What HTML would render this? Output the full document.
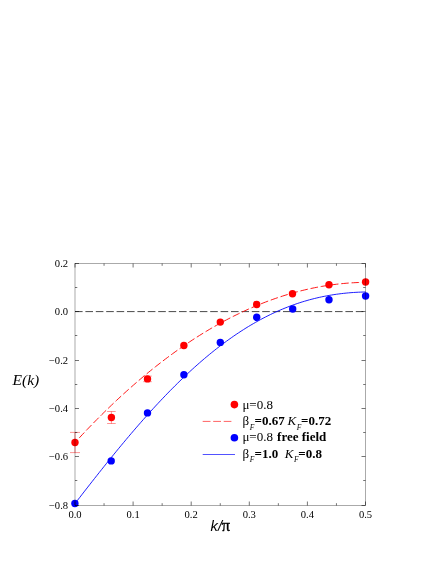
<!DOCTYPE html>
<html><head><meta charset="utf-8"><title>E(k)</title>
<style>
html,body{margin:0;padding:0;background:#fff;}
body{width:441px;height:570px;overflow:hidden;}
svg{display:block;will-change:transform;}
text{font-family:"Liberation Serif",serif;fill:#000;}
.tk{font-size:10.6px;}
.lg{font-size:13px;}
.sub{font-size:7.5px;font-style:italic;}
.b{font-weight:bold;}
.i{font-style:italic;}
</style></head><body>
<svg width="441" height="570" viewBox="0 0 441 570">
<rect width="441" height="570" fill="#fff"/>
<line x1="75.0" y1="311.6" x2="365.5" y2="311.6" stroke="#000" stroke-width="0.72" stroke-dasharray="7.6 2.8"/>
<path d="M74.90,442.62 L77.34,439.97 L79.79,437.33 L82.23,434.72 L84.67,432.13 L87.12,429.56 L89.56,427.02 L92.01,424.50 L94.45,422.00 L96.89,419.52 L99.34,417.06 L101.78,414.63 L104.22,412.21 L106.67,409.82 L109.11,407.46 L111.56,405.11 L114.00,402.79 L116.44,400.49 L118.89,398.21 L121.33,395.95 L123.77,393.71 L126.22,391.50 L128.66,389.31 L131.11,387.14 L133.55,385.00 L135.99,382.87 L138.44,380.77 L140.88,378.69 L143.32,376.64 L145.77,374.60 L148.21,372.59 L150.65,370.60 L153.10,368.63 L155.54,366.68 L157.99,364.76 L160.43,362.86 L162.87,360.98 L165.32,359.12 L167.76,357.29 L170.20,355.47 L172.65,353.68 L175.09,351.91 L177.54,350.17 L179.98,348.44 L182.42,346.74 L184.87,345.06 L187.31,343.40 L189.75,341.77 L192.20,340.15 L194.64,338.56 L197.08,336.99 L199.53,335.45 L201.97,333.92 L204.42,332.42 L206.86,330.94 L209.30,329.48 L211.75,328.05 L214.19,326.63 L216.63,325.24 L219.08,323.87 L221.52,322.53 L223.97,321.20 L226.41,319.90 L228.85,318.62 L231.30,317.36 L233.74,316.12 L236.18,314.91 L238.63,313.72 L241.07,312.55 L243.52,311.40 L245.96,310.28 L248.40,309.17 L250.85,308.09 L253.29,307.03 L255.73,306.00 L258.18,304.98 L260.62,303.99 L263.06,303.02 L265.51,302.07 L267.95,301.15 L270.40,300.25 L272.84,299.36 L275.28,298.51 L277.73,297.67 L280.17,296.85 L282.61,296.06 L285.06,295.29 L287.50,294.54 L289.95,293.82 L292.39,293.12 L294.83,292.43 L297.28,291.77 L299.72,291.14 L302.16,290.52 L304.61,289.93 L307.05,289.36 L309.49,288.81 L311.94,288.29 L314.38,287.78 L316.83,287.30 L319.27,286.84 L321.71,286.40 L324.16,285.99 L326.60,285.60 L329.04,285.23 L331.49,284.88 L333.93,284.55 L336.38,284.25 L338.82,283.97 L341.26,283.71 L343.71,283.47 L346.15,283.25 L348.59,283.06 L351.04,282.89 L353.48,282.74 L355.93,282.61 L358.37,282.51 L360.81,282.43 L363.26,282.37 L365.70,282.33" fill="none" stroke="#f00" stroke-width="0.9" stroke-dasharray="7.56 2.8" stroke-dashoffset="4.1"/>
<path d="M74.90,503.69 L77.34,500.53 L79.79,497.38 L82.23,494.23 L84.67,491.08 L87.12,487.95 L89.56,484.82 L92.01,481.70 L94.45,478.60 L96.89,475.50 L99.34,472.41 L101.78,469.34 L104.22,466.28 L106.67,463.23 L109.11,460.20 L111.56,457.18 L114.00,454.18 L116.44,451.19 L118.89,448.22 L121.33,445.27 L123.77,442.33 L126.22,439.41 L128.66,436.51 L131.11,433.64 L133.55,430.78 L135.99,427.94 L138.44,425.12 L140.88,422.33 L143.32,419.55 L145.77,416.80 L148.21,414.07 L150.65,411.37 L153.10,408.69 L155.54,406.03 L157.99,403.40 L160.43,400.80 L162.87,398.22 L165.32,395.66 L167.76,393.14 L170.20,390.64 L172.65,388.16 L175.09,385.72 L177.54,383.30 L179.98,380.91 L182.42,378.55 L184.87,376.22 L187.31,373.92 L189.75,371.64 L192.20,369.40 L194.64,367.19 L197.08,365.01 L199.53,362.85 L201.97,360.73 L204.42,358.64 L206.86,356.59 L209.30,354.56 L211.75,352.56 L214.19,350.60 L216.63,348.67 L219.08,346.77 L221.52,344.91 L223.97,343.07 L226.41,341.27 L228.85,339.51 L231.30,337.77 L233.74,336.07 L236.18,334.40 L238.63,332.77 L241.07,331.17 L243.52,329.60 L245.96,328.06 L248.40,326.56 L250.85,325.09 L253.29,323.66 L255.73,322.26 L258.18,320.89 L260.62,319.56 L263.06,318.26 L265.51,316.99 L267.95,315.76 L270.40,314.56 L272.84,313.39 L275.28,312.26 L277.73,311.16 L280.17,310.09 L282.61,309.06 L285.06,308.06 L287.50,307.09 L289.95,306.15 L292.39,305.25 L294.83,304.38 L297.28,303.54 L299.72,302.73 L302.16,301.95 L304.61,301.21 L307.05,300.50 L309.49,299.81 L311.94,299.16 L314.38,298.54 L316.83,297.95 L319.27,297.39 L321.71,296.85 L324.16,296.35 L326.60,295.88 L329.04,295.43 L331.49,295.02 L333.93,294.63 L336.38,294.27 L338.82,293.94 L341.26,293.63 L343.71,293.35 L346.15,293.10 L348.59,292.87 L351.04,292.67 L353.48,292.49 L355.93,292.34 L358.37,292.21 L360.81,292.11 L363.26,292.02 L365.70,291.97" fill="none" stroke="#00f" stroke-width="0.88"/>
<g stroke="#f00" stroke-width="0.42" fill="none">
<path d="M75.0,432.4 V452.6 M70.0,432.4 H80.0 M70.0,452.6 H80.0"/>
<path d="M111.4,411.5 V423.5 M107.1,411.5 H115.7 M107.1,423.5 H115.7"/>
<path d="M147.5,376.1 V381.7 M143.2,376.1 H151.8 M143.2,381.7 H151.8"/>
</g>
<g fill="#f00">
<circle cx="75.0" cy="442.5" r="3.7"/>
<circle cx="111.4" cy="417.5" r="3.7"/>
<circle cx="147.5" cy="378.9" r="3.7"/>
<circle cx="183.9" cy="345.5" r="3.7"/>
<circle cx="220.3" cy="322.1" r="3.7"/>
<circle cx="256.7" cy="304.5" r="3.7"/>
<circle cx="292.5" cy="293.7" r="3.7"/>
<circle cx="329" cy="284.8" r="3.7"/>
<circle cx="365.6" cy="282" r="3.7"/>
<circle cx="234.4" cy="404.6" r="3.8"/>
</g>
<g fill="#00f">
<circle cx="74.9" cy="503.5" r="3.7"/>
<circle cx="111.2" cy="460.9" r="3.7"/>
<circle cx="147.5" cy="412.9" r="3.7"/>
<circle cx="183.9" cy="374.8" r="3.7"/>
<circle cx="220.3" cy="342.4" r="3.7"/>
<circle cx="256.7" cy="317.3" r="3.7"/>
<circle cx="292.7" cy="309" r="3.7"/>
<circle cx="329" cy="299.8" r="3.7"/>
<circle cx="365.6" cy="296" r="3.7"/>
<circle cx="234.4" cy="437.7" r="3.8"/>
</g>
<g stroke="#000" stroke-width="0.33" fill="none">
<rect x="75.0" y="263.5" width="290.50" height="242.00"/>
<g stroke-width="0.55">
<line x1="75.0" y1="263.50" x2="79.0" y2="263.50"/>
<line x1="365.5" y1="263.50" x2="361.5" y2="263.50"/>
<line x1="75.0" y1="287.50" x2="77.3" y2="287.50"/>
<line x1="365.5" y1="287.50" x2="363.2" y2="287.50"/>
<line x1="75.0" y1="311.50" x2="79.0" y2="311.50"/>
<line x1="365.5" y1="311.50" x2="361.5" y2="311.50"/>
<line x1="75.0" y1="335.50" x2="77.3" y2="335.50"/>
<line x1="365.5" y1="335.50" x2="363.2" y2="335.50"/>
<line x1="75.0" y1="360.50" x2="79.0" y2="360.50"/>
<line x1="365.5" y1="360.50" x2="361.5" y2="360.50"/>
<line x1="75.0" y1="384.50" x2="77.3" y2="384.50"/>
<line x1="365.5" y1="384.50" x2="363.2" y2="384.50"/>
<line x1="75.0" y1="408.50" x2="79.0" y2="408.50"/>
<line x1="365.5" y1="408.50" x2="361.5" y2="408.50"/>
<line x1="75.0" y1="432.50" x2="77.3" y2="432.50"/>
<line x1="365.5" y1="432.50" x2="363.2" y2="432.50"/>
<line x1="75.0" y1="456.50" x2="79.0" y2="456.50"/>
<line x1="365.5" y1="456.50" x2="361.5" y2="456.50"/>
<line x1="75.0" y1="480.50" x2="77.3" y2="480.50"/>
<line x1="365.5" y1="480.50" x2="363.2" y2="480.50"/>
<line x1="75.0" y1="505.50" x2="79.0" y2="505.50"/>
<line x1="365.5" y1="505.50" x2="361.5" y2="505.50"/>
<line x1="75.00" y1="263.5" x2="75.00" y2="267.5"/>
<line x1="75.00" y1="505.5" x2="75.00" y2="501.5"/>
<line x1="104.05" y1="263.5" x2="104.05" y2="265.8"/>
<line x1="104.05" y1="505.5" x2="104.05" y2="503.2"/>
<line x1="133.10" y1="263.5" x2="133.10" y2="267.5"/>
<line x1="133.10" y1="505.5" x2="133.10" y2="501.5"/>
<line x1="162.15" y1="263.5" x2="162.15" y2="265.8"/>
<line x1="162.15" y1="505.5" x2="162.15" y2="503.2"/>
<line x1="191.20" y1="263.5" x2="191.20" y2="267.5"/>
<line x1="191.20" y1="505.5" x2="191.20" y2="501.5"/>
<line x1="220.25" y1="263.5" x2="220.25" y2="265.8"/>
<line x1="220.25" y1="505.5" x2="220.25" y2="503.2"/>
<line x1="249.30" y1="263.5" x2="249.30" y2="267.5"/>
<line x1="249.30" y1="505.5" x2="249.30" y2="501.5"/>
<line x1="278.35" y1="263.5" x2="278.35" y2="265.8"/>
<line x1="278.35" y1="505.5" x2="278.35" y2="503.2"/>
<line x1="307.40" y1="263.5" x2="307.40" y2="267.5"/>
<line x1="307.40" y1="505.5" x2="307.40" y2="501.5"/>
<line x1="336.45" y1="263.5" x2="336.45" y2="265.8"/>
<line x1="336.45" y1="505.5" x2="336.45" y2="503.2"/>
<line x1="365.50" y1="263.5" x2="365.50" y2="267.5"/>
<line x1="365.50" y1="505.5" x2="365.50" y2="501.5"/>
</g>
</g>
<line x1="202.7" y1="421.4" x2="231.4" y2="421.4" stroke="#f00" stroke-width="0.62" stroke-dasharray="7.8 2.7"/>
<line x1="202.7" y1="454.5" x2="235" y2="454.5" stroke="#00f" stroke-width="0.68"/>
<g class="tk">
<text x="68.1" y="267.10" text-anchor="end">0.2</text>
<text x="68.1" y="315.10" text-anchor="end">0.0</text>
<text x="68.1" y="364.10" text-anchor="end">−0.2</text>
<text x="68.1" y="412.10" text-anchor="end">−0.4</text>
<text x="68.1" y="460.10" text-anchor="end">−0.6</text>
<text x="68.1" y="509.10" text-anchor="end">−0.8</text>
<text x="75.00" y="518.1" text-anchor="middle">0.0</text>
<text x="133.10" y="518.1" text-anchor="middle">0.1</text>
<text x="191.20" y="518.1" text-anchor="middle">0.2</text>
<text x="249.30" y="518.1" text-anchor="middle">0.3</text>
<text x="307.40" y="518.1" text-anchor="middle">0.4</text>
<text x="365.50" y="518.1" text-anchor="middle">0.5</text>
</g>
<text x="12.6" y="384.5" class="i" style="font-size:15.5px">E(k)</text>
<text x="210.6" y="530.6" style="font-size:15px"><tspan style="font-family:'Liberation Sans',sans-serif;font-style:italic" textLength="11.4" lengthAdjust="spacingAndGlyphs">k/</tspan><tspan style="font-size:16.5px" stroke="#000" stroke-width="0.35" dx="-0.2">π</tspan></text>
<g class="lg">
<text x="242.4" y="409">μ=0.8</text>
<text y="425.2"><tspan x="242.4">β</tspan><tspan class="sub" x="249.8" dy="4.4">F</tspan><tspan class="b" x="254.5" dy="-4.4">=0.67</tspan><tspan class="i" x="287.4">K</tspan><tspan class="sub" x="296.7" dy="4.4">F</tspan><tspan class="b" x="301.1" dy="-4.4">=0.72</tspan></text>
<text y="441.3"><tspan x="242.4">μ=0.8</tspan><tspan class="b" x="277.1">free field</tspan></text>
<text y="458"><tspan x="242.4">β</tspan><tspan class="sub" x="249.8" dy="4.4">F</tspan><tspan class="b" x="254.5" dy="-4.4">=1.0</tspan><tspan class="i" x="284.8">K</tspan><tspan class="sub" x="294.1" dy="4.4">F</tspan><tspan class="b" x="298.3" dy="-4.4">=0.8</tspan></text>
</g>
</svg>
</body></html>
